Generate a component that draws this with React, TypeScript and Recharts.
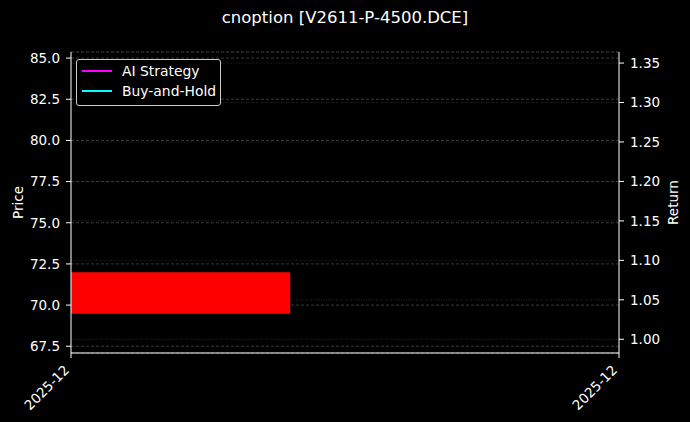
import React from 'react';
import {
  ComposedChart, Line, XAxis, YAxis, CartesianGrid, ReferenceArea,
} from 'recharts';

// ---- data ----
const dateIndex = [0, 1];
const dateLabels = ['2025-12', '2025-12'];
const aiStrategy: (number | null)[] = [null, 1.0];
const buyAndHold: (number | null)[] = [null, 1.0];

const candleX = [0];
const candleOpen = [72.0];
const candleClose = [69.47];
const candleWidth = 0.8;

const priceTicks = [67.5, 70.0, 72.5, 75.0, 77.5, 80.0, 82.5, 85.0];
const returnTicks = [1.0, 1.05, 1.1, 1.15, 1.2, 1.25, 1.3, 1.35];
const priceDomain = [67.09, 85.37];
const returnDomain = [0.9826, 1.364];

const seriesNames = ['AI Strategy', 'Buy-and-Hold'];
const seriesColors = ['#ff00ff', '#00ffff'];

const title = 'cnoption [V2611-P-4500.DCE]';

const rows = dateIndex.map((x, i) => ({
  x,
  ai: aiStrategy[i],
  bh: buyAndHold[i],
}));

const FONT = 'DejaVu Sans, sans-serif';

const XTick = (props: any) => {
  const { x, y, payload } = props;
  const ty = y + 11;
  const tx = x - 1;
  return (
    <text
      x={tx}
      y={ty}
      transform={`rotate(-45 ${tx} ${ty})`}
      textAnchor="end"
      fill="#ffffff"
      fontSize={13.5}
      fontFamily={FONT}
    >
      {dateLabels[dateIndex.indexOf(payload.value)]}
    </text>
  );
};

export default function App() {
  return (
    <div style={{ position: 'absolute', left: 0, top: 0, width: 690, height: 422, background: '#000000', overflow: 'hidden' }}>
      <div
        style={{
          position: 'absolute', left: 0, top: 7, width: 690, textAlign: 'center',
          color: '#ffffff', fontFamily: FONT, fontSize: 16.5, lineHeight: '22px',
        }}
      >
        {title}
      </div>
      <div style={{ position: 'absolute', left: 0, top: 0 }}>
        <ComposedChart
          width={690}
          height={422}
          data={rows}
          margin={{ top: 52, right: 0, bottom: 0, left: 0 }}
        >
          <CartesianGrid yAxisId="ret" vertical={false} stroke="#2e2e2e" strokeDasharray="1 1.5" strokeWidth={0.8} />
          <CartesianGrid yAxisId="price" vertical={false} stroke="#474747" strokeDasharray="3 2" strokeWidth={0.8} />
          <XAxis
            dataKey="x"
            type="number"
            domain={[0, 1]}
            ticks={dateIndex}
            allowDataOverflow
            height={69}
            stroke="#ffffff"
            tickSize={5}
            tick={<XTick />}
            interval={0}
          />
          <YAxis
            yAxisId="price"
            orientation="left"
            domain={priceDomain}
            ticks={priceTicks}
            allowDataOverflow
            width={71}
            stroke="#ffffff"
            tickSize={5}
            tickMargin={6}
            tick={{ fill: '#ffffff', fontSize: 13.5, fontFamily: FONT }}
            tickFormatter={(v: number) => v.toFixed(1)}
            label={{ value: 'Price', angle: -90, position: 'insideLeft', fill: '#ffffff', fontSize: 13.5, fontFamily: FONT, dx: 13, style: { textAnchor: 'middle' } }}
          />
          <YAxis
            yAxisId="ret"
            orientation="right"
            domain={returnDomain}
            ticks={returnTicks}
            allowDataOverflow
            width={71}
            stroke="#ffffff"
            tickSize={5}
            tickMargin={6}
            tick={{ fill: '#ffffff', fontSize: 13.5, fontFamily: FONT }}
            tickFormatter={(v: number) => v.toFixed(2)}
            label={{ value: 'Return', angle: -90, position: 'insideRight', fill: '#ffffff', fontSize: 13.5, fontFamily: FONT, dx: -12, style: { textAnchor: 'middle' } }}
          />
          {candleX.map((cx, i) => (
            <ReferenceArea
              key={i}
              yAxisId="price"
              x1={cx - candleWidth / 2}
              x2={cx + candleWidth / 2}
              y1={Math.min(candleOpen[i], candleClose[i])}
              y2={Math.max(candleOpen[i], candleClose[i])}
              fill={candleClose[i] < candleOpen[i] ? '#ff0000' : '#00ff00'}
              fillOpacity={1}
              stroke="none"
              ifOverflow="hidden"
            />
          ))}
          <Line yAxisId="ret" dataKey="ai" name={seriesNames[0]} stroke={seriesColors[0]} strokeWidth={2} dot={false} isAnimationActive={false} />
          <Line yAxisId="ret" dataKey="bh" name={seriesNames[1]} stroke={seriesColors[1]} strokeWidth={2} dot={false} isAnimationActive={false} />
        </ComposedChart>
      </div>
      <div
        style={{
          position: 'absolute', left: 76, top: 59, width: 143, height: 45,
          border: '1px solid #cccccc', borderRadius: 3, background: '#000000',
          fontFamily: FONT, fontSize: 13.9, color: '#ffffff', boxSizing: 'content-box',
        }}
      >
        {seriesNames.map((n, i) => (
          <div key={n} style={{ position: 'absolute', left: 5, top: 0 + i * 20.5, height: 21, display: 'flex', alignItems: 'center', whiteSpace: 'nowrap' }}>
            <span style={{ display: 'inline-block', width: 30, height: 2, background: seriesColors[i], marginRight: 10 }} />
            <span>{n}</span>
          </div>
        ))}
      </div>
    </div>
  );
}
